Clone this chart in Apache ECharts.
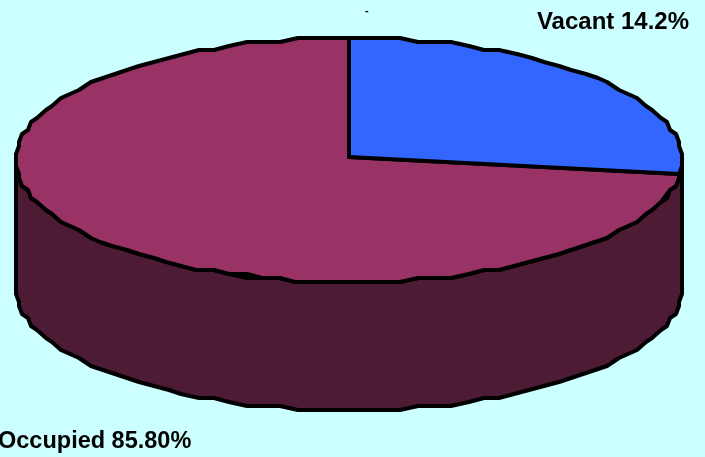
<!DOCTYPE html>
<html>
<head>
<meta charset="utf-8">
<style>html,body{margin:0;padding:0;background:#CCFFFF}#c{width:705px;height:457px}</style>
<script src="https://cdn.jsdelivr.net/npm/echarts@6/dist/echarts.min.js"></script>
</head>
<body>
<div id="c"></div>
<script>
// Data
var categories = ['Vacant', 'Occupied'];
var labelTexts = ['Vacant 14.2%', 'Occupied 85.80%'];
// Sweep of each slice as actually drawn in the reference, in % of the full turn
var drawnShares = [26.7, 73.3];
var sliceColors = ['#3366FF', '#993366'];
var wallColor = '#4D1B33';

var chart = echarts.init(document.getElementById('c'), null, {renderer: 'canvas'});
var cx = 349, cy = 160, rx = 333, ry = 122, depth = 128;
var apex = [349, 157];
var STEP = 3, GX = 3, GY = 4;

function snap(v, r, g) {
  var s = v < 0 ? -1 : 1;
  return s * (r - Math.round((r - Math.abs(v)) / g) * g);
}
function pt(deg, dy) {
  var t = deg * Math.PI / 180;
  return [cx + snap(rx * Math.sin(t), rx, GX), cy + snap(-ry * Math.cos(t), ry, GY) + (dy || 0)];
}
function arc(from, to, dy) {
  var pts = [], n = Math.max(1, Math.round(Math.abs(to - from) / STEP));
  for (var i = 0; i <= n; i++) pts.push(pt(from + (to - from) * i / n, dy));
  return pts;
}
var edge = {stroke: '#000', lineWidth: 4, lineJoin: 'round'};
function styled(fill) { return Object.assign({fill: fill}, edge); }

function renderSlice(i, api) {
  var total = 0, before = 0;
  drawnShares.forEach(function (v, k) { total += v; if (k < i) before += v; });
  var a0 = before / total * 360, a1 = (before + api.value(0)) / total * 360;
  var children = [];
  if (i === drawnShares.length - 1) {
    children.push({
      type: 'polygon',
      shape: {points: arc(90, 270, 0).concat(arc(270, 90, depth))},
      style: styled(wallColor)
    });
  }
  children.push({
    type: 'polygon',
    shape: {points: [apex].concat(arc(a0, a1, 0))},
    style: styled(sliceColors[i])
  });
  return {type: 'group', children: children};
}

var labelFont = {fontFamily: '"Liberation Sans", Arial, sans-serif', fontWeight: 'bold', fontSize: 24, fill: '#000'};
chart.setOption({
  backgroundColor: '#CCFFFF',
  animation: false,
  series: [1, 0].map(function (i) {
    return {
      type: 'custom',
      name: categories[i],
      coordinateSystem: 'none',
      silent: true,
      z: i === 0 ? 3 : 2,
      renderItem: function (params, api) { return renderSlice(i, api); },
      data: [[drawnShares[i]]]
    };
  }),
  graphic: [
    {type: 'text', right: 16, top: 10, style: Object.assign({text: labelTexts[0]}, labelFont)},
    {type: 'text', left: -2, top: 430, style: Object.assign({text: labelTexts[1]}, labelFont, {fontSize: 23.5})},
    {type: 'text', left: 365, top: 5, style: {text: '-', fontFamily: '"Liberation Sans", Arial, sans-serif', fontWeight: 'bold', fontSize: 11, fill: '#000'}}
  ]
});
</script>
</body>
</html>
